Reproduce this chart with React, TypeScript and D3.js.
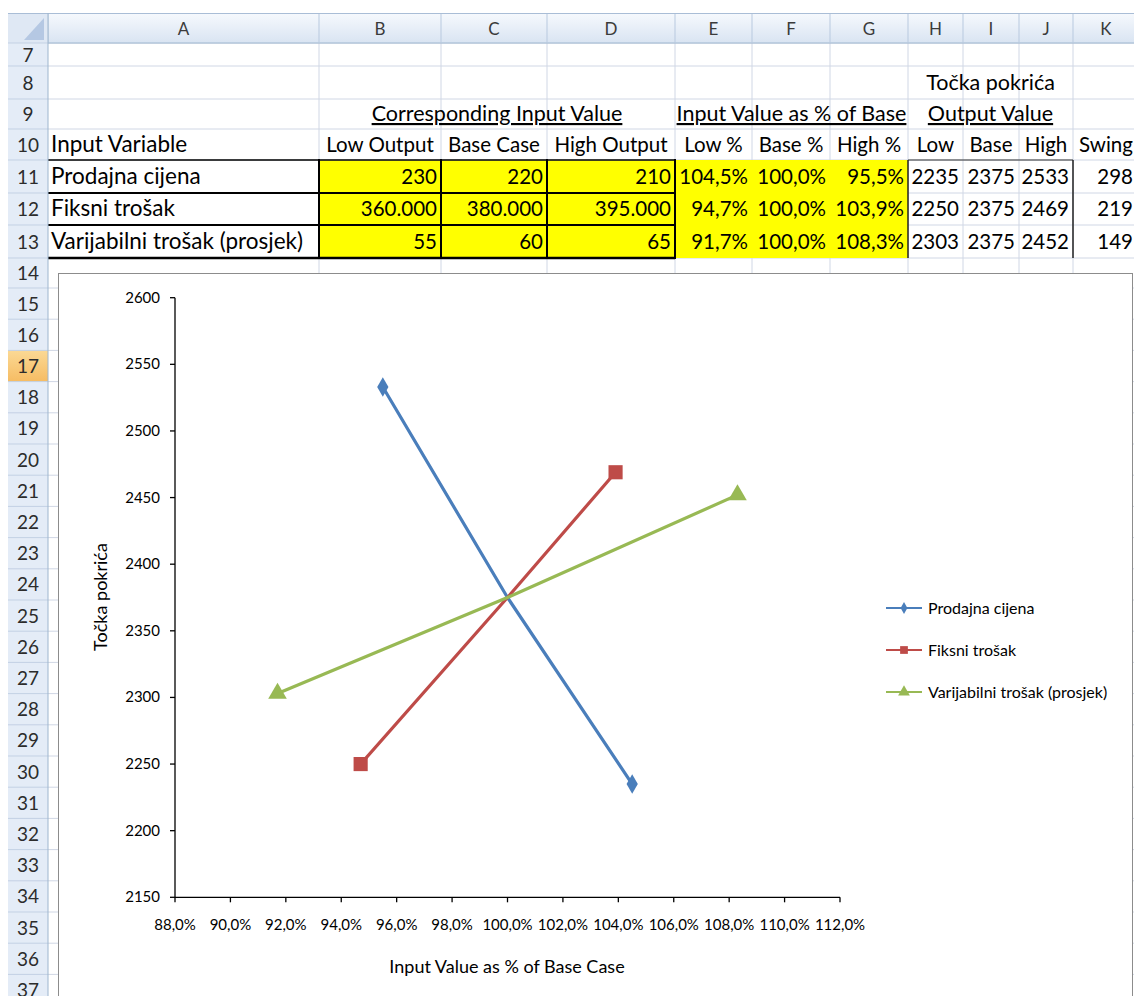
import React from "react";
import * as d3 from "d3";

// ---------- data ----------
const columnLetters = ["A", "B", "C", "D", "E", "F", "G", "H", "I", "J", "K"];
const rowNumbers = d3.range(7, 38);
const variables = ["Prodajna cijena", "Fiksni trošak", "Varijabilni trošak (prosjek)"];
const lowOutputInput = ["230", "360.000", "55"];
const baseCaseInput = ["220", "380.000", "60"];
const highOutputInput = ["210", "395.000", "65"];
const lowPct = [104.5, 94.7, 91.7];
const basePct = [100.0, 100.0, 100.0];
const highPct = [95.5, 103.9, 108.3];
const outLow = [2235, 2250, 2303];
const outBase = [2375, 2375, 2375];
const outHigh = [2533, 2469, 2452];
const swing = [298, 219, 149];
const yTicks = [2150, 2200, 2250, 2300, 2350, 2400, 2450, 2500, 2550, 2600];
const xTicks = [88, 90, 92, 94, 96, 98, 100, 102, 104, 106, 108, 110, 112];
const seriesColors = ["#4a7ebb", "#be4b48", "#98b954"];
const seriesSymbols = [d3.symbolDiamond, d3.symbolSquare, d3.symbolTriangle];

// ---------- layout ----------
const W = 1134, H = 996;
const colEdges = [48, 319, 441, 547, 675, 752, 830, 908, 963, 1019, 1073, 1200];
const rowEdgesTop = [43, 66, 99, 129, 160, 193, 225, 258, 288];
const rowEdges = [...rowEdgesTop];
for (let i = 0; i < 23; i++) rowEdges.push(288 + (i + 1) * 31.2);
const rowMid = (r: number) => {
  const i = r - 7;
  return (rowEdges[i] + rowEdges[i + 1]) / 2;
};
const FONT = "Lato, 'Open Sans', sans-serif";
const pctFmt = (v: number) => d3.format(".1f")(v).replace(".", ",") + "%";
const grid = "#d0d7e5";

export default function App() {
  const x = d3.scaleLinear().domain([88, 112]).range([175, 840]);
  const y = d3.scaleLinear().domain([2150, 2600]).range([897.3, 297.7]);
  const line = d3.line<[number, number]>().x((d) => x(d[0])).y((d) => y(d[1]));
  const series = variables.map((name, i) => ({
    name,
    ends: [[lowPct[i], outLow[i]], [highPct[i], outHigh[i]]] as [number, number][],
    path: [[lowPct[i], outLow[i]], [basePct[i], outBase[i]], [highPct[i], outHigh[i]]] as [number, number][],
  }));
  const numFs = 20.5;
  const txtFs = 21.5;
  const colAFs = 22.5;
  const cx = (c: number) => (colEdges[c] + colEdges[c + 1]) / 2;
  const cr = (c: number) => colEdges[c + 1] - 4;
  const base = (r: number) => rowMid(r) + 7;

  return (
    <svg
      width={W}
      height={H}
      style={{ position: "absolute", left: 0, top: 0, background: "#fff" }}
      fontFamily={FONT}
    >
      <defs>
        <linearGradient id="colhdr" x1="0" y1="0" x2="0" y2="1">
          <stop offset="0" stopColor="#f6f9fd" />
          <stop offset="1" stopColor="#d9e4f2" />
        </linearGradient>
        <linearGradient id="rowsel" x1="0" y1="0" x2="0" y2="1">
          <stop offset="0" stopColor="#fbd995" />
          <stop offset="1" stopColor="#f6bc63" />
        </linearGradient>
      </defs>

      {/* fills */}
      <rect x={colEdges[1]} y={160} width={colEdges[4] - colEdges[1]} height={98} fill="#ffff00" />

      {/* gridlines */}
      {rowEdges.map((ry, i) => (
        <line key={"h" + i} x1={48} x2={W} y1={ry} y2={ry} stroke={grid} strokeWidth={1} />
      ))}
      {colEdges.slice(1).map((cxv, i) => (
        <line key={"v" + i} x1={cxv} x2={cxv} y1={43} y2={H} stroke={grid} strokeWidth={1} />
      ))}
      <rect x={colEdges[4]} y={160} width={colEdges[7] - colEdges[4]} height={98} fill="#ffff00" />

      {/* borders */}
      <line x1={48} x2={675} y1={160} y2={160} stroke="#000" strokeWidth={1.5} />
      <line x1={48} x2={675} y1={193} y2={193} stroke="#000" strokeWidth={2} />
      <line x1={48} x2={675} y1={225} y2={225} stroke="#000" strokeWidth={2} />
      <line x1={48} x2={675} y1={258} y2={258} stroke="#000" strokeWidth={2.5} />
      {[1, 2, 3, 4].map((c) => (
        <line key={"bv" + c} x1={colEdges[c]} x2={colEdges[c]} y1={159} y2={259} stroke="#000" strokeWidth={2} />
      ))}
      <line x1={908} x2={1073} y1={160} y2={160} stroke="#333" strokeWidth={1} />
      <line x1={908} x2={908} y1={160} y2={258} stroke="#222" strokeWidth={1.5} />
      <line x1={1073} x2={1073} y1={160} y2={258} stroke="#222" strokeWidth={1.5} />

      {/* header texts */}
      <g fontSize={txtFs} fill="#000">
        <text x={(colEdges[7] + colEdges[10]) / 2} y={base(8)} textAnchor="middle">Točka pokrića</text>
        <text x={(colEdges[1] + colEdges[4]) / 2} y={base(9)} textAnchor="middle" textDecoration="underline">Corresponding Input Value</text>
        <text x={(colEdges[4] + colEdges[7]) / 2} y={base(9)} textAnchor="middle" textDecoration="underline">Input Value as % of Base</text>
        <text x={(colEdges[7] + colEdges[10]) / 2} y={base(9)} textAnchor="middle" textDecoration="underline">Output Value</text>
        <text x={51} y={base(10)} fontSize={colAFs}>Input Variable</text>
        {["Low Output", "Base Case", "High Output", "Low %", "Base %", "High %", "Low", "Base", "High"].map((t, i) => (
          <text key={t} x={cx(i + 1)} y={base(10)} textAnchor="middle" fontSize={numFs}>{t}</text>
        ))}
        <text x={1079} y={base(10)} fontSize={numFs}>Swing</text>
        {variables.map((v, i) => {
          const r = 11 + i;
          const vals = [lowOutputInput[i], baseCaseInput[i], highOutputInput[i], pctFmt(lowPct[i]), pctFmt(basePct[i]), pctFmt(highPct[i]), String(outLow[i]), String(outBase[i]), String(outHigh[i])];
          return (
            <g key={v}>
              <text x={51} y={base(r)} fontSize={colAFs}>{v}</text>
              {vals.map((t, j) => (
                <text key={j} x={cr(j + 1)} y={base(r)} textAnchor="end" fontSize={numFs}>{t}</text>
              ))}
              <text x={1133} y={base(r)} textAnchor="end" fontSize={numFs}>{swing[i]}</text>
            </g>
          );
        })}
      </g>

      {/* column header */}
      <rect x={8} y={13} width={W - 8} height={30} fill="url(#colhdr)" />
      <line x1={8} x2={W} y1={13.5} y2={13.5} stroke="#a9bdd6" />
      <line x1={8} x2={W} y1={43} y2={43} stroke="#9eb6ce" />
      {colEdges.slice(0, 11).map((c, i) => (
        <line key={"ch" + i} x1={c} x2={c} y1={14} y2={43} stroke="#b8c9df" />
      ))}
      {columnLetters.map((l, i) => (
        <text key={l} x={i === 10 ? 1106 : cx(i)} y={35} textAnchor="middle" fontSize={17} fill="#3b3b3b">{l}</text>
      ))}
      {/* corner */}
      <rect x={8} y={14} width={40} height={29} fill="#dfe8f4" />
      <path d="M44,18 L44,40 L24,40 Z" fill="#b5c8e3" />

      {/* row header */}
      <rect x={8} y={43} width={40} height={H - 43} fill="#e4ecf7" />
      <rect x={8} y={rowEdges[17 - 7]} width={40} height={rowEdges[11] - rowEdges[10]} fill="url(#rowsel)" />
      {rowEdges.map((ry, i) => (
        <line key={"rh" + i} x1={8} x2={48} y1={ry} y2={ry} stroke="#c3d1e4" />
      ))}
      <line x1={48} x2={48} y1={13} y2={H} stroke="#9eb6ce" />
      {rowNumbers.map((r) => (
        <text key={r} x={28} y={rowMid(r) + 7} textAnchor="middle" fontSize={19} fill="#2c2c2c">{r}</text>
      ))}

      {/* chart */}
      <rect x={58.5} y={273.5} width={1074} height={740} fill="#fff" stroke="#8c8c8c" strokeWidth={1} />

      {/* axes */}
      <line x1={x(88)} x2={x(88)} y1={y(2600)} y2={y(2150)} stroke="#000" strokeWidth={1.3} />
      <line x1={x(88)} x2={x(112)} y1={y(2150)} y2={y(2150)} stroke="#000" strokeWidth={1.3} />
      {yTicks.map((t) => (
        <g key={"yt" + t}>
          <line x1={x(88) - 5} x2={x(88)} y1={y(t)} y2={y(t)} stroke="#000" strokeWidth={1.3} />
          <text x={x(88) - 15} y={y(t) + 5} textAnchor="end" fontSize={15} fill="#000">{t}</text>
        </g>
      ))}
      {xTicks.map((t) => (
        <g key={"xt" + t}>
          <line x1={x(t)} x2={x(t)} y1={y(2150)} y2={y(2150) + 5} stroke="#000" strokeWidth={1.3} />
          <text x={x(t)} y={930} textAnchor="middle" fontSize={15} fill="#000">{pctFmt(t)}</text>
        </g>
      ))}
      <text x={507} y={973} textAnchor="middle" fontSize={18} fill="#000">Input Value as % of Base Case</text>
      <text transform="translate(107,597) rotate(-90)" textAnchor="middle" fontSize={18} fill="#000">Točka pokrića</text>

      {/* series */}
      {series.map((s, i) => (
        <g key={s.name}>
          <path d={line(s.path) || ""} fill="none" stroke={seriesColors[i]} strokeWidth={3.2} strokeLinejoin="round" />
          {s.ends.map((p, k) => (
            <path
              key={k}
              transform={`translate(${x(p[0])},${y(p[1])})`}
              d={d3.symbol().type(seriesSymbols[i]).size(i === 0 ? 110 : i === 1 ? 200 : 150)() || ""}
              fill={seriesColors[i]}
            />
          ))}
        </g>
      ))}

      {/* legend */}
      {series.map((s, i) => {
        const ly = 608 + i * 42;
        return (
          <g key={"lg" + i}>
            <line x1={886} x2={922} y1={ly} y2={ly} stroke={seriesColors[i]} strokeWidth={2} />
            <path
              transform={`translate(904,${ly})`}
              d={d3.symbol().type(seriesSymbols[i]).size(i === 0 ? 40 : 60)() || ""}
              fill={seriesColors[i]}
            />
            <text x={928} y={ly + 5.5} fontSize={16} fill="#000">{s.name}</text>
          </g>
        );
      })}
    </svg>
  );
}
